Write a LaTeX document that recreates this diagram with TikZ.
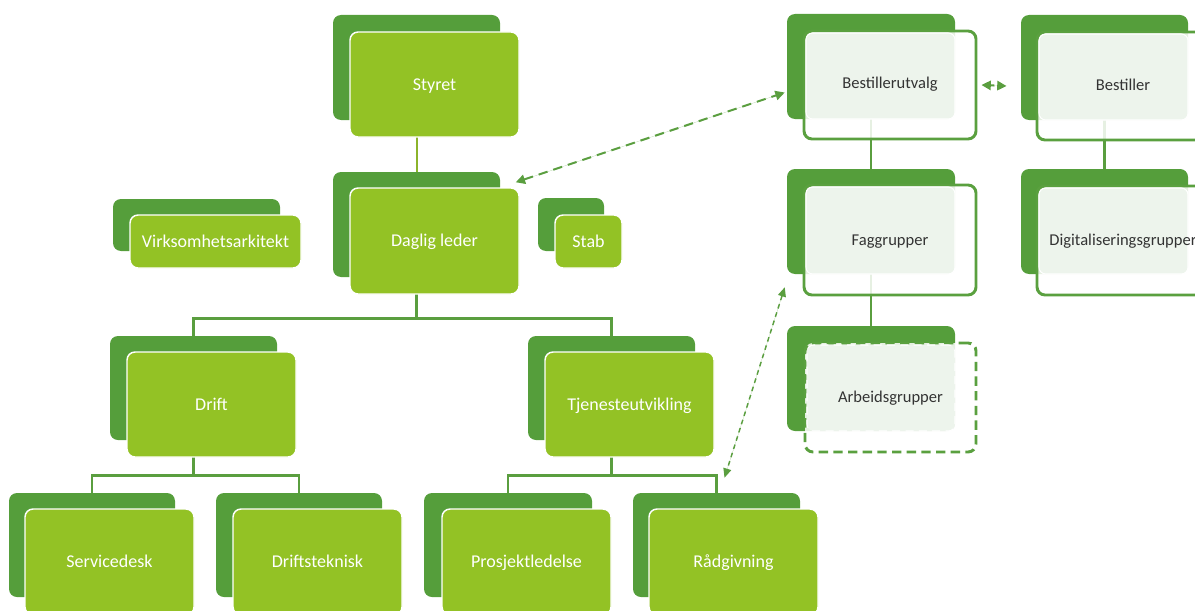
\documentclass[tikz,border=0pt]{standalone}
\usepackage{fontspec}
\setmainfont{Carlito}
\usetikzlibrary{fit,arrows.meta}
\definecolor{dkgreen}{HTML}{559E3B}
\definecolor{ltgreen}{HTML}{93C225}
\definecolor{conngreen}{HTML}{5A9E3F}
\definecolor{olivegreen}{HTML}{8CB42B}
\definecolor{bordgreen}{HTML}{5AA03F}
\definecolor{lightfill}{HTML}{EDF4EC}
\definecolor{textgray}{HTML}{333333}
\tikzset{
  backbox/.style={fill=dkgreen, draw=none, rounded corners=6pt, inner sep=0pt},
  frontbox/.style={fill=ltgreen, draw=white, line width=1.1pt, rounded corners=6pt, inner sep=0pt},
  wtext/.style={text=white, font=\fontsize{13.5}{16}\selectfont, inner sep=0pt, anchor=base, yshift=-4.3pt},
  rfront/.style={fill=white, fill opacity=0.85, draw=bordgreen, line width=2.2pt, rounded corners=6pt, inner sep=0pt},
  rlight/.style={fill=lightfill, draw=white, line width=0.8pt, rounded corners=5pt, inner sep=0pt},
  rtext/.style={text=textgray, font=\fontsize{12.4}{15}\selectfont, inner sep=0pt, anchor=base, yshift=-4pt},
  conn/.style={draw=conngreen, line width=2.2pt},
  conn2/.style={draw=olivegreen, line width=1.5pt},
  darrow/.style={draw=conngreen, line width=1.5pt, dash pattern=on 7pt off 4.5pt,
    arrows={Triangle[length=7pt,width=7pt]-Triangle[length=7pt,width=7pt]}, fill=conngreen},
  darrowfine/.style={draw=conngreen, line width=1.1pt, dash pattern=on 3.5pt off 3pt,
    arrows={Triangle[length=7pt,width=6pt]-Triangle[length=7pt,width=6pt]}, fill=conngreen},
}
\begin{document}
\begin{tikzpicture}[x=0.75pt,y=-0.75pt]
\useasboundingbox (0,0) rectangle (1195,610);

% ---------- back boxes (left) ----------
\node[backbox, fit={(333,15) (500,120)}] (styB) {};
\node[backbox, fit={(333,172) (500,277)}] (dlB) {};
\node[backbox, fit={(113,199) (280,251)}] (vaB) {};
\node[backbox, fit={(538,198) (604,251)}] (stB) {};
\node[backbox, fit={(110,336) (277,440)}] (drB) {};
\node[backbox, fit={(528,336) (695,440)}] (tjB) {};
\node[backbox, fit={(9,493) (175,597)}] (sdB) {};
\node[backbox, fit={(216,493) (382,597)}] (dtB) {};
\node[backbox, fit={(424,493) (592,597)}] (plB) {};
\node[backbox, fit={(633,493) (800,597)}] (rgB) {};

% ---------- connectors (left) ----------
\draw[conn2] (styB.south) -- (dlB.north);
\draw[conn] (dlB.south) -- ++(0,41) -| (drB.north);
\draw[conn] (dlB.south) ++(0,41) -| (tjB.north);
\draw[conn] (drB.south) -- ++(0,35) -| (sdB.north);
\draw[conn] (drB.south) ++(0,35) -| (dtB.north);
\draw[conn] (tjB.south) -- ++(0,35) -| (plB.north);
\draw[conn] (tjB.south) ++(0,35) -| (rgB.north);

% ---------- front boxes (left) ----------
\node[frontbox, fit={(350,32) (519,137)}] (styF) {};
\node[frontbox, fit={(350,188) (519,294)}] (dlF) {};
\node[frontbox, fit={(130,215) (301,268)}] (vaF) {};
\node[frontbox, fit={(555,215) (622,268)}] (stF) {};
\node[frontbox, fit={(127,352) (296,457)}] (drF) {};
\node[frontbox, fit={(545,352) (714,457)}] (tjF) {};
\node[frontbox, fit={(25,509) (194,615)}] (sdF) {};
\node[frontbox, fit={(233,509) (402,615)}] (dtF) {};
\node[frontbox, fit={(442,509) (611,615)}] (plF) {};
\node[frontbox, fit={(649,509) (818,615)}] (rgF) {};

\node[wtext] (styT) at (styF.center) {Styret};
\node[wtext] (dlT) at (dlF.center) {Daglig leder};
\node[wtext] (vaT) at (vaF.center) {Virksomhetsarkitekt};
\node[wtext] (stT) at (stF.center) {Stab};
\node[wtext] (drT) at (drF.center) {Drift};
\node[wtext] (tjT) at (tjF.center) {Tjenesteutvikling};
\node[wtext] (sdT) at (sdF.center) {Servicedesk};
\node[wtext] (dtT) at (dtF.center) {Driftsteknisk};
\node[wtext] (plT) at (plF.center) {Prosjektledelse};
\node[wtext] (rgT) at (rgF.center) {Rådgivning};

% ---------- right side ----------
\node[backbox, fit={(787,14) (955,119)}] (buB) {};
\node[backbox, fit={(1021,15) (1188,120)}] (bsB) {};
\node[backbox, fit={(787,169) (955,274)}] (fgB) {};
\node[backbox, fit={(1021,169) (1188,274)}] (dgB) {};
\node[backbox, fit={(787,326) (955,431)}] (agB) {};

\draw[conn] (buB.south) -- (fgB.north);
\draw[conn] (bsB.south) -- (dgB.north);
\draw[conn] (fgB.south) -- (agB.north);

\node[rfront, fit={(804,31) (976,139)}] (buF) {};
\node[rfront, fit={(1037,32) (1209,140)}] (bsF) {};
\node[rfront, fit={(804,185) (976,295)}] (fgF) {};
\node[rfront, fit={(1037,186) (1209,295)}] (dgF) {};
\node[rfront, dash pattern=on 7pt off 4pt, fit={(805,343) (976,452)}] (agF) {};

\node[rlight, fit={(806,33) (955,119)}] (buL) {};
\node[rlight, fit={(1039,34) (1188,120)}] (bsL) {};
\node[rlight, fit={(806,187) (955,274)}] (fgL) {};
\node[rlight, fit={(1039,188) (1188,274)}] (dgL) {};
\node[rlight, dash pattern=on 6pt off 4pt, fit={(807,345) (955,431)}] (agL) {};

\node[rtext] (buT) at ([yshift=1pt]buF.center) {Bestillerutvalg};
\node[rtext] (bsT) at ([yshift=1pt]bsF.center) {Bestiller};
\node[rtext] (fgT) at (fgF.center) {Faggrupper};
\node[rtext] (dgT) at (dgF.center) {Digitaliseringsgrupper};
\node[rtext] (agT) at (agF.center) {Arbeidsgrupper};

% ---------- dashed arrows ----------
\draw[darrow] ([shift={(-4,-5)}]dlF.north east) -- ([shift={(-2,26)}]buB.west);
\draw[darrowfine] ([shift={(-2,13)}]fgB.south west) -- ([shift={(8,-15)}]rgB.north);
\draw[darrow, dash pattern=on 3pt off 3pt] ([shift={(4,0)}]buF.east) -- ([shift={(-29,0)}]bsF.west);
\end{tikzpicture}
\end{document}
